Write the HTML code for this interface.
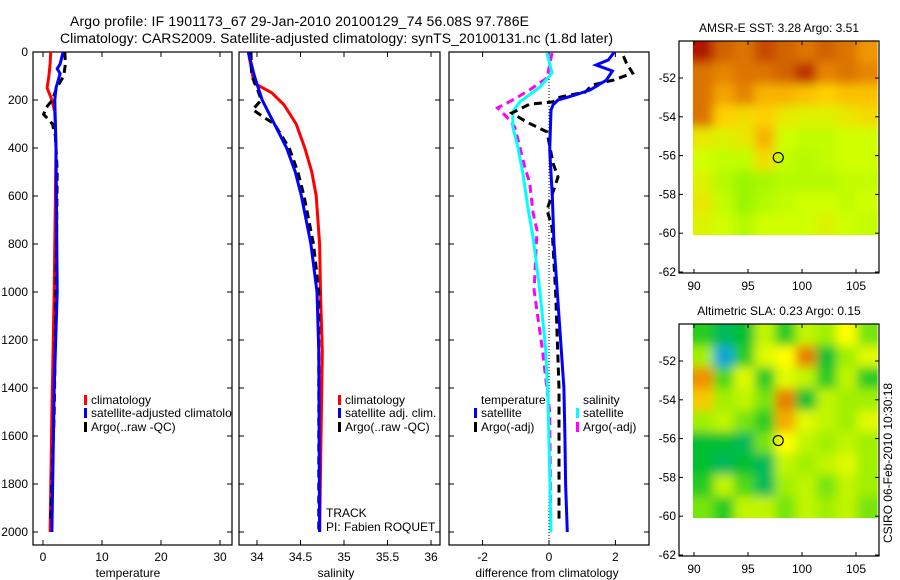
<!DOCTYPE html>
<html><head><meta charset="utf-8"><style>
body{margin:0;background:#fff}
svg{display:block;font-family:"Liberation Sans",sans-serif}
</style></head><body>
<svg id="fig" width="900" height="580" viewBox="0 0 900 580" xmlns="http://www.w3.org/2000/svg">
<text x="70" y="26" font-size="14" textLength="459">Argo profile: IF 1901173_67 29-Jan-2010 20100129_74 56.08S 97.786E</text>
<text x="60" y="43" font-size="14" textLength="553">Climatology: CARS2009. Satellite-adjusted climatology: synTS_20100131.nc (1.8d later)</text>
<g id="layer"></g>
</svg>
<script>
// ---- data ----
const tempClimDepth=[0,50,100,150,200,250,400,600,1000,1500,2000];
const tempClimVal=[1.3,1.2,1.0,0.7,1.5,2.0,2.2,2.1,1.9,1.5,1.2];
const tempSatDepth=[0,50,70,90,150,200,400,1000,1400,2000];
const tempSatVal=[3.4,2.9,2.4,2.9,2.2,2.0,2.2,2.4,1.9,1.5];
const tempArgoDepth=[0,50,100,150,200,230,260,280,300,350,500,1000,1500,1950];
const tempArgoVal=[3.7,3.8,3.5,2.3,1.6,0.6,0.1,0.9,1.6,2.1,2.4,2.2,1.9,1.3];
const salClimDepth=[0,100,130,170,220,300,400,500,600,800,1000,1250,2000];
const salClimVal=[33.9,33.95,33.97,34.17,34.31,34.45,34.55,34.63,34.68,34.72,34.73,34.75,34.72];
const salSatDepth=[0,100,200,300,400,500,600,800,1000,1250,2000];
const salSatVal=[33.9,33.97,34.06,34.2,34.34,34.44,34.51,34.62,34.69,34.71,34.72];
const salArgoDepth=[0,100,150,200,240,270,300,400,500,600,800,1000,2000];
const salArgoVal=[33.93,33.94,34.0,34.05,33.95,34.07,34.2,34.37,34.47,34.54,34.65,34.71,34.71];
const dTSatDepth=[0,33,54,79,117,158,179,200,221,242,408,600,800,1000,1200,1400,1600,1800,2000];
const dTSatVal=[1.97,1.79,1.42,1.91,1.73,1.24,0.79,0.27,0.12,0.06,0.02,0.1,0.15,0.25,0.35,0.45,0.48,0.5,0.55];
const dTArgoDepth=[17,46,88,117,138,167,188,208,217,254,292,333,463,521,658,729,1000,1400,1950];
const dTArgoVal=[2.24,2.33,2.52,1.94,1.3,1.09,0.33,0.12,-0.58,-1.12,-0.67,-0.06,0.12,0.27,-0.06,0.09,0.2,0.3,0.3];
const dSSatDepth=[4,88,146,208,250,313,396,504,646,775,1000,1240,1450,2000];
const dSSatVal=[-0.06,0.09,-0.27,-0.88,-1.09,-1.09,-0.94,-0.79,-0.64,-0.48,-0.27,-0.1,-0.03,0.06];
const dSArgoDepth=[4,108,158,200,233,271,313,479,546,671,742,992,1240,1500,1950];
const dSArgoVal=[0.09,-0.06,-0.58,-1.09,-1.55,-1.27,-1.03,-0.73,-0.58,-0.48,-0.36,-0.45,-0.2,0.02,0.05];
const depthTicks=[0,200,400,600,800,1000,1200,1400,1600,1800,2000];
const tempTicks=[0,10,20,30];
const salTicks=[34,34.5,35,35.5,36];
const salTickLabels=["34","34.5","35","35.5","36"];
const diffTicks=[-2,0,2];
const latTicks=[-52,-54,-56,-58,-60,-62];
const lonTicks=[90,95,100,105];
const sstGrid=[
[1,.85,.8,.9,.85,.8,.85,.8,.7],
[.8,.75,.8,.8,.85,.95,.75,.8,.75],
[.8,.65,.75,.6,.6,.55,.5,.55,.55],
[.8,.5,.45,.5,.4,.35,.35,.4,.45],
[.4,.35,.4,.6,.3,.25,.25,.3,.3],
[.3,.25,.25,.45,.25,.2,.25,.3,.3],
[.35,.2,.1,.15,.2,.2,.2,.25,.25],
[.4,.25,.1,.2,.25,.3,.3,.25,.3],
[.35,.3,.2,.3,.3,.3,.35,.3,.25]];
const slaGrid=[
[.3,.2,.25,.5,.3,.5,.45,.6,.4],
[.45,.05,.3,.55,.6,.85,.25,.45,.55],
[.8,.35,.55,.3,.55,.5,.3,.5,.3],
[.7,.45,.5,.4,.85,.25,.5,.45,.45],
[.45,.5,.4,.3,.75,.55,.5,.45,.55],
[.25,.25,.2,.4,.6,.5,.45,.5,.45],
[.25,.2,.25,.2,.5,.45,.5,.55,.45],
[.3,.5,.35,.2,.45,.5,.4,.5,.45],
[.4,.3,.5,.5,.4,.5,.45,.5,.4]];
const argoLon=97.8, argoLat=-56.1;

// ---- helpers ----
const NS="http://www.w3.org/2000/svg";
const layer=document.getElementById('layer');
function mk(tag,attrs,parent){const e=document.createElementNS(NS,tag);for(const k in attrs)e.setAttribute(k,attrs[k]);(parent||layer).appendChild(e);return e;}
const yTop=52, yScale=0.24, pBottom=545;
const yD=d=>yTop+d*yScale;
const xT=v=>43+v*5.9;
const xS=v=>257+(v-34)*87;
const xDf=v=>549+v*33.2;
const panels=[[33,232,'temperature-panel'],[239,440,'salinity-panel'],[449,649,'difference-panel']];

const defs=mk('defs',{});
panels.forEach((p,i)=>{const c=mk('clipPath',{id:'clip'+i},defs);mk('rect',{x:p[0],y:yTop,width:p[1]-p[0],height:pBottom-yTop},c);});
const blur=mk('filter',{id:'blur',x:'-10%',y:'-10%',width:'120%',height:'120%'},defs);
mk('feGaussianBlur',{stdDeviation:'5'},blur);

function line(depths,vals,xf,color,dash,name,clip){
  const pts=depths.map((d,i)=>xf(vals[i]).toFixed(1)+','+yD(d).toFixed(1)).join(' ');
  const el=mk('polyline',{points:pts,fill:'none',stroke:color,'stroke-width':3,'stroke-dasharray':dash||'none','clip-path':'url(#clip'+clip+')'});
  
  
}
function txt(x,y,s,size,anchor,name){const t=mk('text',{x:x,y:y,'font-size':size||12,'text-anchor':anchor||'start'});t.textContent=s;
  
  return t;}

panels.forEach((p,i)=>{
  const r=mk('rect',{x:p[0],y:yTop,width:p[1]-p[0],height:pBottom-yTop,fill:'none',stroke:'#000','stroke-width':1.2});
  
  
  depthTicks.forEach(d=>{mk('line',{x1:p[0],x2:p[0]+5,y1:yD(d),y2:yD(d),stroke:'#000'});mk('line',{x1:p[1],x2:p[1]-5,y1:yD(d),y2:yD(d),stroke:'#000'});});
});
depthTicks.forEach(d=>txt(28,yD(d)+4,String(d),12,'end','y-tick-label'));
function xticks(ticks,labels,xf){ticks.forEach((v,i)=>{const x=xf(v);
  mk('line',{x1:x,x2:x,y1:yTop,y2:yTop+5,stroke:'#000'});mk('line',{x1:x,x2:x,y1:pBottom,y2:pBottom-5,stroke:'#000'});
  txt(x,561,labels[i],12,'middle','x-tick-label');});}
xticks(tempTicks,tempTicks.map(String),xT);
xticks(salTicks,salTickLabels,xS);
xticks(diffTicks,diffTicks.map(String),xDf);
txt(128,577,'temperature',12,'middle','x-axis-title-temperature');
txt(336,577,'salinity',12,'middle','x-axis-title-salinity');
txt(547,577,'difference from climatology',12,'middle','x-axis-title-difference');

const zl=mk('line',{x1:549,x2:549,y1:yTop,y2:pBottom,stroke:'#000','stroke-dasharray':'1,2'});



line(tempClimDepth,tempClimVal,xT,'#f00','','temp-climatology-line',0);
line(tempArgoDepth,tempArgoVal,xT,'#000','8,5','temp-argo-line',0);
line(tempSatDepth,tempSatVal,xT,'#00f','','temp-satellite-line',0);
line(salClimDepth,salClimVal,xS,'#f00','','sal-climatology-line',1);
line(salArgoDepth,salArgoVal,xS,'#000','8,5','sal-argo-line',1);
line(salSatDepth,salSatVal,xS,'#00f','','sal-satellite-line',1);
line(dSArgoDepth,dSArgoVal,xDf,'#f0f','8,5','diff-sal-argo-line',2);
line(dSSatDepth,dSSatVal,xDf,'#0ff','','diff-sal-satellite-line',2);
line(dTArgoDepth,dTArgoVal,xDf,'#000','8,5','diff-temp-argo-line',2);
line(dTSatDepth,dTSatVal,xDf,'#00f','','diff-temp-satellite-line',2);

function leg(x,y,color,label,name,clip){
  const m=mk('rect',{x:x,y:y-9,width:3,height:10,fill:color});
  
  
  const t=txt(x+7,y,label,12,'start',name);
  if(clip!==undefined)t.setAttribute('clip-path','url(#clip'+clip+')');
}
leg(84,404,'#f00','climatology','legend-climatology',0);
leg(84,417,'#00f','satellite-adjusted climatology','legend-satellite-adjusted',0);
leg(84,431,'#000','Argo(..raw -QC)','legend-argo',0);
leg(338,404,'#f00','climatology','legend-sal-climatology',1);
leg(338,417,'#00f','satellite adj. clim.','legend-sal-satellite',1);
leg(338,431,'#000','Argo(..raw -QC)','legend-sal-argo',1);
txt(481,404,'temperature',12,'start','legend-temperature-header');
txt(583,404,'salinity',12,'start','legend-salinity-header');
leg(474,417,'#00f','satellite','legend-diff-temp-satellite');
leg(474,431,'#000','Argo(-adj)','legend-diff-temp-argo');
leg(576,417,'#0ff','satellite','legend-diff-sal-satellite');
leg(576,431,'#f0f','Argo(-adj)','legend-diff-sal-argo');
txt(326,517,'TRACK',12,'start','track-label');
txt(326,531,'PI: Fabien ROQUET',12,'start','pi-label');

function lerpColor(stops,v){v=Math.max(0,Math.min(1,v));for(let i=1;i<stops.length;i++){if(v<=stops[i][0]){const a=stops[i-1],b=stops[i];const t=(v-a[0])/(b[0]-a[0]);
  return 'rgb('+[1,2,3].map(k=>Math.round(a[k]+(b[k]-a[k])*t)).join(',')+')';}}const s=stops[stops.length-1];return 'rgb('+s[1]+','+s[2]+','+s[3]+')';}
const sstStops=[[0,128,240,0],[0.3,208,255,0],[0.5,255,208,0],[0.7,240,150,0],[0.85,210,100,0],[1,176,20,0]];
const slaStops=[[0,16,160,255],[0.25,0,192,48],[0.45,160,240,0],[0.6,255,255,0],[0.8,240,144,0],[1,208,80,0]];
let mapCount=0;
function drawMap(top,grid,stops,name,title){
  const L=679,R=879,B=top+232;
  const lonX=v=>694+(v-90)*10.8;
  const latY=v=>top+37+(-52-v)*19.4;
  const g=mk('g',{});
  
  
  const x0=lonX(89.9), x1=lonX(107), y0=top, y1=latY(-60.1);
  const cid='mapclip'+(mapCount++);
  const cp=mk('clipPath',{id:cid},defs);
  mk('rect',{x:x0,y:y0,width:x1-x0,height:y1-y0},cp);
  const cg=mk('g',{'clip-path':'url(#'+cid+')'},g);
  const bg=mk('g',{filter:'url(#blur)'},cg);
  const rows=grid.length, cols=grid[0].length;
  const cw=(x1-x0)/cols, ch=(y1-y0)/rows, ext=14;
  grid.forEach((row,r)=>row.forEach((v,c)=>{
    let cx=x0+c*cw, cy=y0+r*ch, w=cw+0.6, h=ch+0.6;
    if(c===0){cx-=ext;w+=ext;} if(c===cols-1){w+=ext;}
    if(r===0){cy-=ext;h+=ext;} if(r===rows-1){h+=ext;}
    const cell=mk('rect',{x:cx.toFixed(1),y:cy.toFixed(1),width:w.toFixed(1),height:h.toFixed(1),fill:lerpColor(stops,v)},bg);
    
    
  }));
  const fr=mk('rect',{x:L,y:top,width:R-L,height:B-top,fill:'none',stroke:'#000','stroke-width':1.2},g);
  
  
  latTicks.forEach(v=>{const y=latY(v);mk('line',{x1:L,x2:L+4,y1:y,y2:y,stroke:'#000'},g);mk('line',{x1:R,x2:R-4,y1:y,y2:y,stroke:'#000'},g);
    txt(L-3,y+4,String(v),12,'end','map-lat-label');});
  lonTicks.forEach(v=>{const x=lonX(v);mk('line',{x1:x,x2:x,y1:top,y2:top+4,stroke:'#000'},g);mk('line',{x1:x,x2:x,y1:B,y2:B-4,stroke:'#000'},g);
    txt(x,B+17,String(v),12,'middle','map-lon-label');});
  const c=mk('ellipse',{cx:lonX(argoLon),cy:latY(argoLat),rx:5,ry:5,fill:'none',stroke:'#000','stroke-width':1.2},g);
  
  
  txt(779,top-9,title,12,'middle',name+'-title');
}
drawMap(41,sstGrid,sstStops,'sst-map','AMSR-E SST: 3.28 Argo: 3.51');
drawMap(324,slaGrid,slaStops,'sla-map','Altimetric SLA: 0.23 Argo: 0.15');
const cs=txt(0,0,'CSIRO 06-Feb-2010 10:30:18',12,'middle','timestamp-label');
cs.setAttribute('transform','translate(892,463) rotate(-90)');
</script>
</body></html>
